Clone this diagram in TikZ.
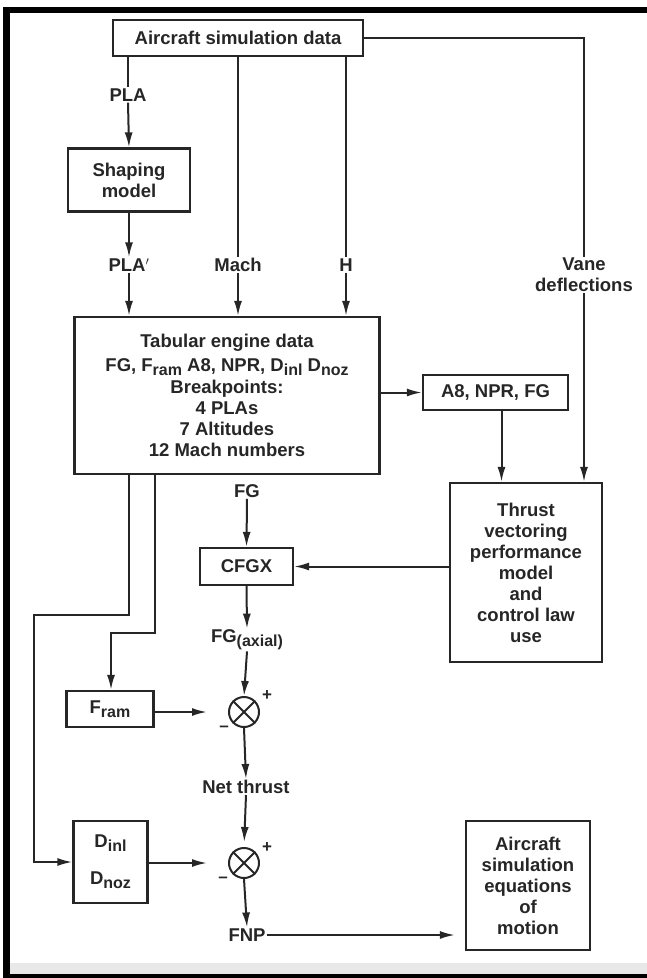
\documentclass[tikz,border=0pt]{standalone}
\usepackage{fontspec}
\setmainfont{Liberation Sans}
\usetikzlibrary{arrows.meta,positioning}
\definecolor{InkGray}{RGB}{38,38,38}
\definecolor{ScanBand}{RGB}{232,232,232}
\newcommand{\lowsub}[1]{\raisebox{-4pt}{\fontsize{16}{16}\selectfont #1}}

\begin{document}
\begin{tikzpicture}[x=1pt,y=-1pt,>={Latex[length=15pt,width=8pt]},
  every node/.style={font=\fontsize{18.5}{21}\selectfont\bfseries,text=InkGray},
  blk/.style={draw=InkGray,line width=2.2pt,align=center,inner sep=0pt},
  lbl/.style={align=center,inner sep=1pt},
  sumj/.style={draw=InkGray,line width=2pt,circle,minimum size=30pt,inner sep=0pt},
  sgn/.style={inner sep=0pt,font=\fontsize{17}{17}\selectfont\bfseries},
  wire/.style={draw=InkGray,line width=2pt}]
  \useasboundingbox (0,0) rectangle (647,978);
  % scanned frame
  \fill[black] (3,7) rectangle (647,13);
  \fill[black] (3,7) rectangle (10,978);
  \fill[ScanBand] (10,963) rectangle (647,974);
  \fill[black] (3,974) rectangle (647,978);

  % blocks
  \node[blk,minimum width=250pt,minimum height=36pt] (asd) at (238,38) {Aircraft simulation data};
  \node[blk,minimum width=122pt,minimum height=63pt] (shp) at (129,180) {Shaping\\model};
  \node[blk,minimum width=305pt,minimum height=157pt] (tab) at (227,395.5)
    {Tabular engine data\\[3pt]
     FG, F\lowsub{ram} A8, NPR, D\lowsub{inl} D\lowsub{noz}\\[1pt]
     Breakpoints:\\4 PLAs\\7 Altitudes\\12 Mach numbers};
  \node[blk,minimum width=145pt,minimum height=35pt] (a8) at (495.5,392.5) {A8, NPR, FG};
  \node[blk,minimum width=152pt,minimum height=179pt] (thr) at (526,572.5)
    {Thrust\\vectoring\\performance\\model\\and\\control law\\use};
  \node[blk,minimum width=93pt,minimum height=37pt] (cfgx) at (246.5,566.5) {CFGX};
  \node[blk,minimum width=87pt,minimum height=36pt] (fram) at (110,709) {F\lowsub{ram}};
  \node[blk,minimum width=74pt,minimum height=82pt] (dinl) at (110.5,862) {D\lowsub{inl}\\[16pt]D\lowsub{noz}};
  \node[blk,minimum width=124pt,minimum height=129pt] (eqm) at (528,885.5)
    {Aircraft\\simulation\\equations\\of\\motion};

  % summing junctions
  \node[sumj] (s1) at (244,712) {};
  \node[sumj] (s2) at (244,863) {};
  \draw[wire] (s1.north east) -- (s1.south west) (s1.north west) -- (s1.south east);
  \draw[wire] (s2.north east) -- (s2.south west) (s2.north west) -- (s2.south east);
  \node[sgn] (p1) at (267,696) {+};
  \node[sgn] (m1) at (224,729) {--};
  \node[sgn] (p2) at (267,848) {+};
  \node[sgn] (m2) at (223,880) {--};

  % signal labels
  \node[lbl] (pla) at (128,95) {PLA};
  \node[lbl] (plap) at (129,265) {PLA$'$};
  \node[lbl] (mach) at (238,265) {Mach};
  \node[lbl] (alt) at (346,265) {H};
  \node[lbl] (vane) at (584,275) {Vane\\deflections};
  \node[lbl] (fg) at (247,491) {FG};
  \node[lbl] (fgax) at (247,640) {FG\lowsub{(axial)}};
  \node[lbl] (net) at (246,787) {Net thrust};
  \node[lbl] (fnp) at (247,935) {FNP};

  % top feeds
  \draw[wire] (asd.south -| pla) -- (pla.north);
  \draw[wire,->] (pla.south) -- (shp.north);
  \draw[wire,->] (shp.south) -- (plap.north);
  \draw[wire,->] (plap.south) -- (plap.south |- tab.north);
  \draw[wire] (asd.south -| mach) -- (mach.north);
  \draw[wire,->] (mach.south) -- (mach.south |- tab.north);
  \draw[wire] (asd.south -| alt) -- (alt.north);
  \draw[wire,->] (alt.south) -- (alt.south |- tab.north);
  \draw[wire] (asd.east) -| (vane.north);
  \draw[wire,->] (vane.south) -- (vane.south |- thr.north);

  % thrust vectoring branch
  \draw[wire,->] (a8.west -| tab.east) -- (a8.west);
  \draw[wire,->] ([xshift=6pt]a8.south) -- ([xshift=6pt]a8.south |- thr.north);
  \draw[wire,->] (fg.south) -- (cfgx.north);
  \draw[wire,->] (thr.west |- cfgx.east) -- (cfgx.east);
  \draw[wire,->] (cfgx.south) -- (fgax.north);
  \draw[wire,->] (fgax.south) -- (s1.north);

  % ram drag and inlet/nozzle drag
  \coordinate (bendA) at (34,615);
  \coordinate (bendB) at (111,633);
  \draw[wire,->] ([xshift=-98pt]tab.south) |- (bendA) |- (dinl.west);
  \draw[wire,->] ([xshift=-72pt]tab.south) |- (bendB) -- (bendB |- fram.north);
  \draw[wire,->,shorten >=21pt] (s1.west -| fram.east) -- (s1.west);
  \draw[wire,->] (s1.south) -- (net.north);
  \draw[wire,->,shorten >=5pt] (net.south) -- (s2.north);
  \draw[wire,->,shorten >=21pt] (s2.west -| dinl.east) -- (s2.west);
  \draw[wire,->] (s2.south) -- (fnp.north);
  \draw[wire,->,shorten >=10pt] (fnp.east) -- (fnp.east -| eqm.west);
\end{tikzpicture}
\end{document}
